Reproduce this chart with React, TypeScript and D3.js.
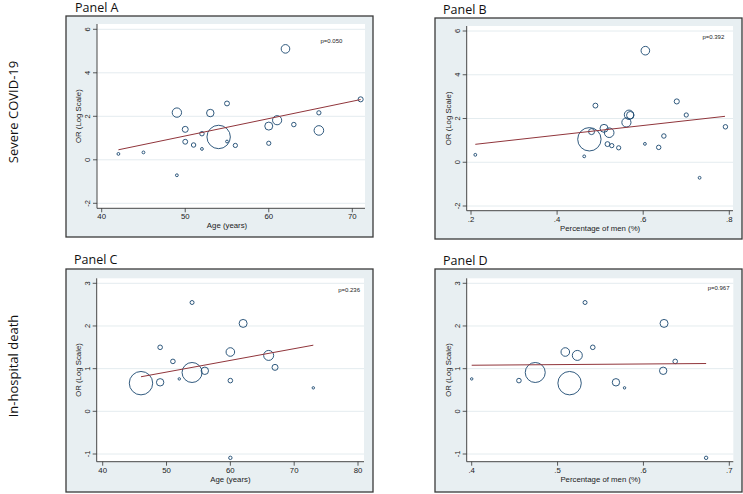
import React from "react";
import * as d3 from "d3";

// ---------- DATA ----------
// Severe COVID-19 studies (Panels A & B)
const severeAge = [42, 45, 49, 49, 50, 50, 51, 52, 52, 53, 54, 55, 55, 56, 60, 60, 61, 62, 63, 66, 66, 71];
const severePctMen: (number | null)[] = [0.463, 0.21, 0.731, 0.567, 0.48, 0.517, 0.636, 0.648, null, 0.57, 0.475, 0.489, 0.604, 0.543, 0.509, 0.527, 0.561, 0.605, 0.791, 0.7, 0.521, 0.678];
const severeLogOR = [0.27, 0.34, -0.71, 2.17, 1.4, 0.83, 0.68, 1.2, 0.5, 2.15, 1.05, 2.59, 0.84, 0.66, 1.55, 0.76, 1.82, 5.1, 1.62, 2.16, 1.35, 2.78];
const severeWeight = [2, 2, 2, 22, 9, 6, 5, 5, 2, 14, 137, 6, 2, 4.5, 16, 4.5, 21, 18.5, 5, 4.5, 23, 6.5];

// In-hospital death studies (Panels C & D)
const deathAge = [46, 49, 49, 51, 52, 54, 54, 56, 60, 60, 60, 62, 66, 67, 73];
const deathPctMen: (number | null)[] = [0.514, 0.541, 0.568, 0.637, 0.4, 0.532, 0.474, 0.623, 0.509, 0.455, 0.673, 0.624, 0.523, null, 0.578];
const deathLogOR = [0.66, 1.5, 0.68, 1.17, 0.76, 2.55, 0.91, 0.95, 1.39, 0.72, -1.09, 2.06, 1.31, 1.03, 0.55];
const deathWeight = [137, 5.3, 13.7, 5.3, 1.5, 4, 100, 13.7, 18.5, 5.3, 2.9, 16, 25, 9, 1.5];

// Meta-regression fitted lines (endpoints)
const severeAgeFit: [number, number][] = [[42, 0.46], [71, 2.77]];
const severeMenFit: [number, number][] = [[0.21, 0.82], [0.79, 2.1]];
const deathAgeFit: [number, number][] = [[46, 0.81], [73, 1.55]];
const deathMenFit: [number, number][] = [[0.4, 1.08], [0.673, 1.12]];

// p-values
const pValues = ["p=0.050", "p=0.392", "p=0.236", "p=0.967"];

// Ticks
const ageTicksAB = [40, 50, 60, 70];
const menTicksB = [0.2, 0.4, 0.6, 0.8];
const menTickLabelsB = [".2", ".4", ".6", ".8"];
const ageTicksCD = [40, 50, 60, 70, 80];
const menTicksD = [0.4, 0.5, 0.6, 0.7];
const menTickLabelsD = [".4", ".5", ".6", ".7"];
const yTicksAB = [-2, 0, 2, 4, 6];
const yTicksCD = [-1, 0, 1, 2, 3];

const panelTitles = ["Panel A", "Panel B", "Panel C", "Panel D"];
const rowLabels = ["Severe COVID-19", "In-hospital death"];
const xTitles = ["Age (years)", "Percentage of men (%)"];
const yTitle = "OR (Log Scale)";

// ---------- STYLE ----------
const SANS = "'Liberation Sans', Arial, Helvetica, sans-serif";
const TITLE_FONT = "'Open Sans', 'Noto Sans', sans-serif";
const BG = "#e8eff2";
const GRID = "#e4ecef";
const NAVY = "#1a476f";
const MAROON = "#90353b";
const AXIS = "#333";

const rScale = d3.scaleSqrt().domain([0, 137]).range([0, 11.7]);

type PanelProps = {
  frame: { x: number; y: number; w: number; h: number };
  plot: { left: number; right: number; top: number; bottom: number };
  xDomain: [number, number];
  xRange: [number, number];
  yDomain: [number, number];
  yRange: [number, number];
  xTicks: number[];
  xTickLabels: string[];
  yTicks: number[];
  xs: (number | null)[];
  ys: number[];
  ws: number[];
  fit: [number, number][];
  pText: string;
  pPos: [number, number];
  xTitle: string;
  title: string;
  titlePos: [number, number];
};

function Panel(p: PanelProps) {
  const x = d3.scaleLinear().domain(p.xDomain).range(p.xRange);
  const y = d3.scaleLinear().domain(p.yDomain).range(p.yRange);
  const line = d3
    .line<[number, number]>()
    .x((d) => x(d[0]))
    .y((d) => y(d[1]));
  const { plot, frame } = p;
  const idx = p.ys.map((_, i) => i).filter((i) => p.xs[i] != null);
  const yTitleX = plot.left - 16;
  const yMid = (plot.top + plot.bottom) / 2;
  return (
    <g>
      <text x={p.titlePos[0]} y={p.titlePos[1]} fontFamily={TITLE_FONT} fontSize={12.5} fill="#111">
        {p.title}
      </text>
      <rect x={frame.x} y={frame.y} width={frame.w} height={frame.h} fill={BG} stroke="#3a3a3a" strokeWidth={1.3} />
      <rect x={plot.left} y={plot.top} width={plot.right - plot.left} height={plot.bottom - plot.top} fill="#fff" />
      {p.yTicks.map((t) => (
        <line key={"g" + t} x1={plot.left} x2={plot.right} y1={y(t)} y2={y(t)} stroke={GRID} strokeWidth={1} />
      ))}
      {/* axes */}
      <line x1={plot.left} x2={plot.left} y1={plot.top} y2={plot.bottom} stroke={AXIS} strokeWidth={0.9} />
      <line x1={plot.left} x2={plot.right} y1={plot.bottom} y2={plot.bottom} stroke={AXIS} strokeWidth={0.9} />
      {p.yTicks.map((t) => (
        <g key={"yt" + t}>
          <line x1={plot.left - 4} x2={plot.left} y1={y(t)} y2={y(t)} stroke={AXIS} strokeWidth={0.8} />
          <text
            transform={`translate(${plot.left - 7},${y(t)}) rotate(-90)`}
            textAnchor="middle"
            fontFamily={SANS}
            fontSize={7.5}
            fill="#222"
          >
            {String(t)}
          </text>
        </g>
      ))}
      {p.xTicks.map((t, i) => (
        <g key={"xt" + t}>
          <line x1={x(t)} x2={x(t)} y1={plot.bottom} y2={plot.bottom + 4} stroke={AXIS} strokeWidth={0.8} />
          <text x={x(t)} y={plot.bottom + 11} textAnchor="middle" fontFamily={SANS} fontSize={7.8} fill="#222">
            {p.xTickLabels[i]}
          </text>
        </g>
      ))}
      <text x={(p.xRange[0] + p.xRange[1]) / 2} y={plot.bottom + 20} textAnchor="middle" fontFamily={SANS} fontSize={7.8} fill="#222">
        {p.xTitle}
      </text>
      <text
        transform={`translate(${yTitleX},${yMid}) rotate(-90)`}
        textAnchor="middle"
        fontFamily={SANS}
        fontSize={7.8}
        fill="#222"
      >
        {yTitle}
      </text>
      {idx.map((i) => (
        <circle
          key={"c" + i}
          cx={x(p.xs[i] as number)}
          cy={y(p.ys[i])}
          r={Math.max(1.2, rScale(p.ws[i]))}
          fill="none"
          stroke={NAVY}
          strokeWidth={0.9}
        />
      ))}
      <path d={line(p.fit) || ""} fill="none" stroke={MAROON} strokeWidth={1} />
      <text x={x(p.pPos[0])} y={y(p.pPos[1])} textAnchor="middle" dominantBaseline="middle" fontFamily={SANS} fontSize={6} fill="#222">
        {p.pText}
      </text>
    </g>
  );
}

export default function App() {
  const W = 743;
  const H = 494;
  return (
    <svg width={W} height={H} style={{ position: "absolute", left: 0, top: 0, background: "#fff" }}>
      <rect x={0} y={0} width={W} height={H} fill="#fff" />
      <text transform="translate(18,112) rotate(-90)" textAnchor="middle" fontFamily={TITLE_FONT} fontSize={13} fill="#111">
        {rowLabels[0]}
      </text>
      <text transform="translate(18,366) rotate(-90)" textAnchor="middle" fontFamily={TITLE_FONT} fontSize={13} fill="#111">
        {rowLabels[1]}
      </text>
      <Panel
        frame={{ x: 66, y: 16, w: 307, h: 221 }}
        plot={{ left: 97, right: 365, top: 24, bottom: 208.3 }}
        xDomain={[40, 70]}
        xRange={[101.7, 352.3]}
        yDomain={[-2, 6]}
        yRange={[203.3, 29.3]}
        xTicks={ageTicksAB}
        xTickLabels={ageTicksAB.map(String)}
        yTicks={yTicksAB}
        xs={severeAge}
        ys={severeLogOR}
        ws={severeWeight}
        fit={severeAgeFit}
        pText={pValues[0]}
        pPos={[67.5, 5.43]}
        xTitle={xTitles[0]}
        title={panelTitles[0]}
        titlePos={[75, 12]}
      />
      <Panel
        frame={{ x: 435, y: 18, w: 307, h: 221 }}
        plot={{ left: 466.7, right: 733, top: 26, bottom: 210.7 }}
        xDomain={[0.2, 0.8]}
        xRange={[471, 729.3]}
        yDomain={[-2, 6]}
        yRange={[206, 31]}
        xTicks={menTicksB}
        xTickLabels={menTickLabelsB}
        yTicks={yTicksAB}
        xs={severePctMen}
        ys={severeLogOR}
        ws={severeWeight}
        fit={severeMenFit}
        pText={pValues[1]}
        pPos={[0.763, 5.69]}
        xTitle={xTitles[1]}
        title={panelTitles[1]}
        titlePos={[443, 13.5]}
      />
      <Panel
        frame={{ x: 66, y: 269, w: 307, h: 223 }}
        plot={{ left: 96.7, right: 364, top: 278.3, bottom: 461.7 }}
        xDomain={[40, 80]}
        xRange={[102.7, 358]}
        yDomain={[-1, 3]}
        yRange={[454, 283.3]}
        xTicks={ageTicksCD}
        xTickLabels={ageTicksCD.map(String)}
        yTicks={yTicksCD}
        xs={deathAge}
        ys={deathLogOR}
        ws={deathWeight}
        fit={deathAgeFit}
        pText={pValues[2]}
        pPos={[78.6, 2.84]}
        xTitle={xTitles[0]}
        title={panelTitles[2]}
        titlePos={[74, 264]}
      />
      <Panel
        frame={{ x: 435, y: 269, w: 307, h: 223 }}
        plot={{ left: 466.7, right: 733.3, top: 278.3, bottom: 461.7 }}
        xDomain={[0.4, 0.7]}
        xRange={[471.7, 729.3]}
        yDomain={[-1, 3]}
        yRange={[454, 283.3]}
        xTicks={menTicksD}
        xTickLabels={menTickLabelsD}
        yTicks={yTicksCD}
        xs={deathPctMen}
        ys={deathLogOR}
        ws={deathWeight}
        fit={deathMenFit}
        pText={pValues[3]}
        pPos={[0.6875, 2.88]}
        xTitle={xTitles[1]}
        title={panelTitles[3]}
        titlePos={[443, 265]}
      />
    </svg>
  );
}
